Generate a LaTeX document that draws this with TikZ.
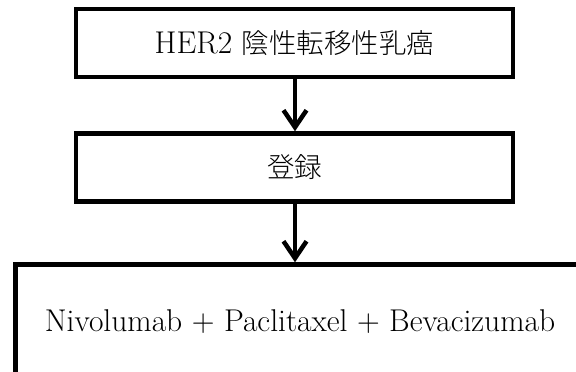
\documentclass[tikz,border=0pt]{standalone}
\usepackage{fontspec}
\newfontfamily\cjk{Noto Sans CJK JP Light}
\usetikzlibrary{arrows.meta}
\begin{document}
\begin{tikzpicture}[x=1pt,y=-1pt,
  box/.style={draw=black,line width=4.5pt,fill=white,inner sep=0pt,font=\fontsize{31.5}{36}\selectfont},
  jp/.style={},
  arr/.style={line width=4.5pt,-{Straight Barb[length=17pt,width=23pt]}}]
\useasboundingbox (0,0) rectangle (576,372);
\clip (0,0) rectangle (576,372);
\node[box,minimum width=437pt,minimum height=68pt] (b1) at (294.5,43) {HER2 {\cjk\fontsize{27.5}{33}\selectfont 陰性転移性乳癌}};
\node[box,minimum width=437pt,minimum height=68pt] (b2) at (294.5,167.5) {\raisebox{-6pt}{\cjk\fontsize{27.5}{33}\selectfont 登録}};
\node[box,minimum width=569pt,minimum height=115pt] (b3) at (300,322) {Nivolumab + Paclitaxel + Bevacizumab};
\draw[arr] (b1.south -| 295,0) -- (b2.north -| 295,0);
\draw[arr] (b2.south -| 295,0) -- (b3.north -| 295,0);
\end{tikzpicture}
\end{document}
